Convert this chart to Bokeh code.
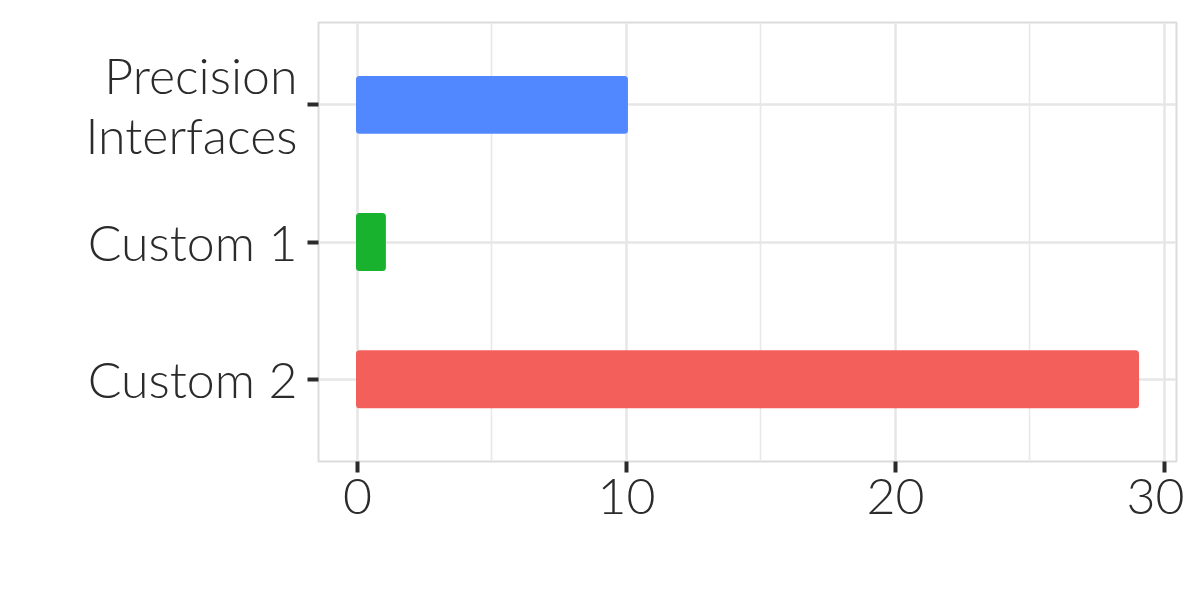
from bokeh.plotting import figure
from bokeh.models import ColumnDataSource, FixedTicker, Range1d
from bokeh.embed import file_html
from bokeh.resources import INLINE

categories = ["Precision\nInterfaces", "Custom 1", "Custom 2"]
values = [10, 1, 29]
colors = ["#5188FF", "#19B22F", "#F3605B"]
x_ticks = [0, 10, 20, 30]
x_minor = [5, 15, 25]

n = len(categories)
ypos = [n - i for i in range(n)]  # first category on top

src = ColumnDataSource(dict(y=ypos, v=values, c=colors))

FONT = "Lato Light"
TEXT = "#2b2b2b"
FS = "50px"

p = figure(frame_width=858, frame_height=439, output_backend="svg",
           toolbar_location=None,
           x_range=Range1d(-1.45, 30.45), y_range=Range1d(0.4, n + 0.6),
           min_border_left=318, min_border_right=8, min_border_top=22,
           min_border_bottom=120)

p.hbar(y="y", left=0, right="v", height=0.4, fill_color="c", line_color="c",
       line_width=3, border_radius=2, source=src)

p.outline_line_color = "#dcdcdc"
p.outline_line_width = 2
p.background_fill_color = "white"
p.border_fill_color = "white"

# x axis
p.xaxis.ticker = FixedTicker(ticks=x_ticks, minor_ticks=x_minor)
p.xaxis.axis_line_color = None
p.xaxis.major_tick_out = 11
p.xaxis.major_tick_in = 0
p.xaxis.minor_tick_out = 0
p.xaxis.minor_tick_in = 0
p.xaxis.major_tick_line_width = 4
p.xaxis.major_tick_line_color = TEXT
p.xaxis.major_label_text_font = FONT
p.xaxis.major_label_text_font_size = FS
p.xaxis.major_label_text_color = TEXT
p.xaxis.major_label_standoff = 6

# y axis
p.yaxis.ticker = FixedTicker(ticks=ypos)
p.yaxis.major_label_overrides = {y: c for y, c in zip(ypos, categories)}
p.yaxis.axis_line_color = None
p.yaxis.major_tick_out = 11
p.yaxis.major_tick_in = 0
p.yaxis.minor_tick_line_color = None
p.yaxis.major_tick_line_width = 4
p.yaxis.major_tick_line_color = TEXT
p.yaxis.major_label_text_font = FONT
p.yaxis.major_label_text_font_size = FS
p.yaxis.major_label_text_color = TEXT
p.yaxis.major_label_text_line_height = 1.0
p.yaxis.major_label_standoff = 10

# grid
p.xgrid.grid_line_color = "#e6e6e6"
p.xgrid.grid_line_width = 2.5
p.xgrid.minor_grid_line_color = "#e8e8e8"
p.xgrid.minor_grid_line_width = 1.6
p.ygrid.grid_line_color = "#e6e6e6"
p.ygrid.grid_line_width = 2.5
p.ygrid.level = "underlay"
p.xgrid.level = "underlay"

open("out.html", "w").write(file_html(p, INLINE))
